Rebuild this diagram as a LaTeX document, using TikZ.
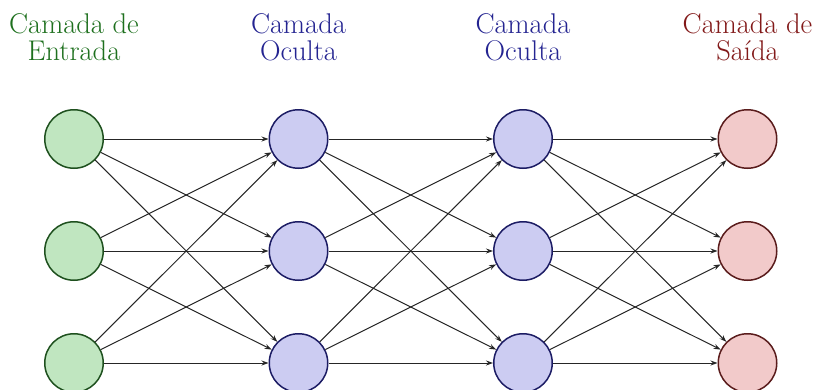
\documentclass[tikz,border=0pt]{standalone}
\usetikzlibrary{arrows.meta}
\definecolor{inFill}{RGB}{192,230,192}
\definecolor{inLine}{RGB}{30,80,30}
\definecolor{hidFill}{RGB}{204,204,242}
\definecolor{hidLine}{RGB}{28,28,100}
\definecolor{outFill}{RGB}{242,202,202}
\definecolor{outLine}{RGB}{90,28,28}
\definecolor{inText}{RGB}{30,112,30}
\definecolor{hidText}{RGB}{36,36,145}
\definecolor{outText}{RGB}{130,25,25}
\tikzset{
  neuron/.style={circle, minimum size=58.5pt, inner sep=0pt, line width=1.5pt},
  inneuron/.style={neuron, fill=inFill, draw=inLine},
  hidneuron/.style={neuron, fill=hidFill, draw=hidLine},
  outneuron/.style={neuron, fill=outFill, draw=outLine},
  layerlabel/.style={anchor=north, align=center, inner sep=0pt, font=\fontsize{28.5}{27}\selectfont},
  conn/.style={-{Stealth[length=7pt,width=5pt]}, line width=1pt, draw=black!85}
}
\begin{document}
\begin{tikzpicture}[x=1pt, y=-1pt]
\useasboundingbox (0,0) rectangle (816,389);
% layers
\foreach \r/\y in {1/139, 2/251, 3/363} {
  \node[inneuron]  (I-\r) at (74,\y) {};
  \node[hidneuron] (A-\r) at (298.5,\y) {};
  \node[hidneuron] (B-\r) at (523,\y) {};
  \node[outneuron] (O-\r) at (747.5,\y) {};
}
% connections
\foreach \s in {1,2,3} {
  \foreach \t in {1,2,3} {
    \draw[conn] (I-\s) -- (A-\t);
    \draw[conn] (A-\s) -- (B-\t);
    \draw[conn] (B-\s) -- (O-\t);
  }
}
% labels
\node[layerlabel, text=inText]  (L1) at (74,13)    {Camada de\\Entrada};
\node[layerlabel, text=hidText] (L2) at (298.5,13) {Camada\\Oculta};
\node[layerlabel, text=hidText] (L3) at (523,13)   {Camada\\Oculta};
\node[layerlabel, text=outText] (L4) at (747.5,13) {Camada de\\Sa\'{\i}da};
\end{tikzpicture}
\end{document}
